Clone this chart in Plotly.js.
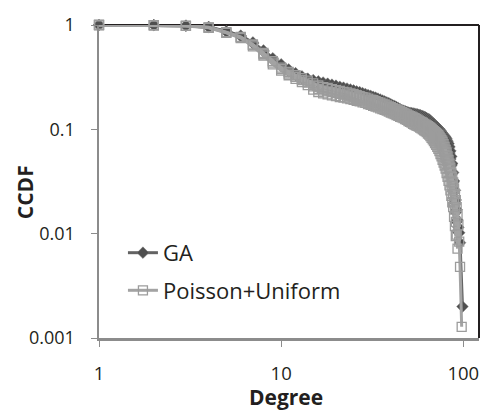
<!DOCTYPE html>
<html>
<head>
<meta charset="utf-8">
<script src="https://cdn.plot.ly/plotly-3.0.1.min.js"></script>
<style>
  html, body { margin: 0; padding: 0; background: #fff; }
  #chart { width: 487px; height: 412px; }
</style>
</head>
<body>
<div id="chart"></div>
<script>
// Node degree (x axis)
const degree = [
  1, 2, 3, 4, 5, 6, 7, 8, 9, 10,
  11, 12, 13, 14, 15, 16, 17, 18, 19, 20,
  21, 22, 23, 24, 25, 26, 27, 28, 29, 30,
  31, 32, 33, 34, 35, 36, 37, 38, 39, 40,
  41, 42, 43, 44, 45, 46, 47, 48, 49, 50,
  51, 52, 53, 54, 55, 56, 57, 58, 59, 60,
  61, 62, 63, 64, 65, 66, 67, 68, 69, 70,
  71, 72, 73, 74, 75, 76, 77, 78, 79, 80,
  81, 82, 83, 84, 85, 86, 87, 88, 89, 90,
  91, 92, 93, 94, 95, 96, 97, 98, 99
];

// CCDF of the GA-generated networks (two runs)
const gaRun1 = [
  1, 0.997, 0.986, 0.958, 0.87, 0.79, 0.68, 0.57, 0.48, 0.42,
  0.375, 0.345, 0.322, 0.306, 0.296, 0.288, 0.281, 0.274, 0.268, 0.262,
  0.256, 0.251, 0.246, 0.241, 0.236, 0.231, 0.227, 0.222, 0.218, 0.213,
  0.209, 0.205, 0.201, 0.197, 0.193, 0.189, 0.185, 0.181, 0.178, 0.174,
  0.170, 0.167, 0.163, 0.160, 0.156, 0.153, 0.151, 0.149, 0.147, 0.145,
  0.144, 0.143, 0.142, 0.141, 0.140, 0.139, 0.138, 0.137, 0.135, 0.134,
  0.132, 0.130, 0.128, 0.126, 0.124, 0.121, 0.118, 0.115, 0.112, 0.109,
  0.107, 0.105, 0.102, 0.100, 0.097, 0.094, 0.091, 0.088, 0.086, 0.084,
  0.081, 0.077, 0.073, 0.068, 0.062, 0.055, 0.047, 0.0385, 0.032, 0.026,
  0.021, 0.017, 0.0135, 0.0115, 0.0102, 0.0082, null, null, 0.002
];
const gaRun2 = [
  1, 0.996, 0.984, 0.952, 0.862, 0.78, 0.665, 0.555, 0.465, 0.405,
  0.36, 0.33, 0.308, 0.293, 0.282, 0.273, 0.265, 0.259, 0.253, 0.247,
  0.242, 0.237, 0.232, 0.228, 0.223, 0.219, 0.215, 0.211, 0.207, 0.203,
  0.199, 0.195, 0.191, 0.187, 0.183, 0.179, 0.175, 0.172, 0.168, 0.165,
  0.161, 0.158, 0.155, 0.152, 0.149, 0.146, 0.144, 0.142, 0.140, 0.138,
  0.137, 0.136, 0.135, 0.134, 0.133, 0.132, 0.131, 0.130, 0.129, 0.128,
  0.126, 0.124, 0.121, 0.119, 0.116, 0.114, 0.112, 0.110, 0.108, 0.105,
  0.103, 0.100, 0.097, 0.095, 0.092, 0.090, 0.088, 0.086, 0.083, 0.080,
  0.077, 0.072, 0.066, 0.059, 0.052, 0.045, 0.038, 0.031, 0.025, 0.020,
  0.016, 0.013, 0.0105
];

// CCDF of the Poisson+Uniform networks (three runs)
const puRun1 = [
  1, 0.996, 0.983, 0.95, 0.855, 0.77, 0.65, 0.54, 0.45, 0.39,
  0.355, 0.33, 0.31, 0.293, 0.276, 0.263, 0.254, 0.249, 0.243, 0.238,
  0.233, 0.229, 0.226, 0.221, 0.217, 0.213, 0.208, 0.204, 0.201, 0.197,
  0.193, 0.190, 0.186, 0.182, 0.180, 0.176, 0.173, 0.170, 0.166, 0.163,
  0.160, 0.157, 0.155, 0.152, 0.149, 0.146, 0.144, 0.141, 0.139, 0.136,
  0.134, 0.132, 0.130, 0.128, 0.126, 0.124, 0.121, 0.119, 0.117, 0.115,
  0.113, 0.111, 0.109, 0.107, 0.105, 0.103, 0.101, 0.098, 0.096, 0.094,
  0.092, 0.090, 0.088, 0.085, 0.082, 0.079, 0.076, 0.072, 0.068, 0.064,
  0.060, 0.055, 0.051, 0.047, 0.043, 0.0385, 0.035, 0.031, 0.027, 0.024,
  0.021, 0.018, 0.0153, 0.012, 0.0084, 0.0048, null, 0.00128
];
const puRun2 = [
  1, 0.995, 0.981, 0.945, 0.848, 0.76, 0.64, 0.525, 0.435, 0.378,
  0.343, 0.318, 0.297, 0.28, 0.258, 0.244, 0.236, 0.231, 0.227, 0.223,
  0.219, 0.215, 0.211, 0.207, 0.204, 0.200, 0.196, 0.192, 0.189, 0.185,
  0.182, 0.179, 0.176, 0.172, 0.169, 0.166, 0.162, 0.159, 0.156, 0.154,
  0.151, 0.148, 0.145, 0.143, 0.140, 0.137, 0.135, 0.132, 0.131, 0.128,
  0.126, 0.124, 0.121, 0.119, 0.117, 0.115, 0.113, 0.111, 0.109, 0.108,
  0.106, 0.103, 0.101, 0.098, 0.096, 0.094, 0.092, 0.089, 0.087, 0.085,
  0.082, 0.080, 0.077, 0.074, 0.071, 0.068, 0.065, 0.061, 0.057, 0.053,
  0.050, 0.046, 0.042, 0.038, 0.035, 0.031, 0.028, 0.024, 0.020, 0.017,
  0.013, 0.0098, 0.0072
];
const puRun3 = [
  1, 0.995, 0.98, 0.94, 0.84, 0.75, 0.625, 0.51, 0.42, 0.366,
  0.33, 0.305, 0.283, 0.265, 0.240, 0.228, 0.221, 0.216, 0.212, 0.208,
  0.204, 0.201, 0.198, 0.195, 0.192, 0.188, 0.185, 0.181, 0.179, 0.175,
  0.172, 0.168, 0.165, 0.162, 0.159, 0.156, 0.154, 0.151, 0.148, 0.145,
  0.142, 0.140, 0.137, 0.135, 0.132, 0.130, 0.128, 0.125, 0.123, 0.120,
  0.118, 0.116, 0.113, 0.111, 0.109, 0.108, 0.106, 0.104, 0.102, 0.100,
  0.098, 0.096, 0.094, 0.091, 0.089, 0.086, 0.083, 0.080, 0.077, 0.074,
  0.071, 0.068, 0.065, 0.062, 0.058, 0.055, 0.051, 0.048, 0.045, 0.042,
  0.038, 0.035, 0.032, 0.029, 0.026, 0.023, 0.020, 0.018, 0.0145, 0.0118,
  0.0095
];

const xTicks = [1, 10, 100];
const xTickText = ['1', '10', '100'];
const yTicks = [0.001, 0.01, 0.1, 1];
const yTickText = ['0.001', '0.01', '0.1', '1'];

const GA_LINE = '#636363';
const GA_MARK = '#4f4f4f';
const PU_LINE = '#a3a3a3';
const PU_MARK = '#9c9c9c';
const FONT = '"Open Sans", "Noto Sans", sans-serif';
const TEXT = '#231f20';

function gaTrace(values, show) {
  return {
    x: degree.slice(0, values.length), y: values,
    type: 'scatter', mode: 'lines+markers', name: 'GA',
    legendgroup: 'ga', showlegend: show, connectgaps: true, cliponaxis: false,
    line: { color: GA_LINE, width: 3 },
    marker: { symbol: 'diamond', size: 9, color: GA_MARK,
              line: { color: '#7a7a7a', width: 0.5 } },
    hoverinfo: 'x+y'
  };
}
function puTrace(values, show) {
  return {
    x: degree.slice(0, values.length), y: values,
    type: 'scatter', mode: 'lines+markers', name: 'Poisson+Uniform',
    legendgroup: 'pu', showlegend: show, connectgaps: true, cliponaxis: false,
    line: { color: PU_LINE, width: 3 },
    marker: { symbol: 'square-open', size: 9, color: PU_MARK,
              line: { color: PU_MARK, width: 1.3 } },
    hoverinfo: 'x+y'
  };
}

const data = [
  gaTrace(gaRun2, false),
  gaTrace(gaRun1, true),
  puTrace(puRun3, false),
  puTrace(puRun2, false),
  puTrace(puRun1, true)
];

const layout = {
  width: 487, height: 412,
  margin: { l: 99, r: 8, t: 25, b: 74, pad: 0 },
  paper_bgcolor: '#ffffff', plot_bgcolor: '#ffffff',
  font: { family: FONT, color: TEXT, size: 18 },
  showlegend: true,
  legend: {
    x: 0.063, y: 0.339, xanchor: 'left', yanchor: 'top',
    bgcolor: 'rgba(0,0,0,0)', borderwidth: 0,
    font: { family: FONT, size: 22, color: TEXT },
    traceorder: 'grouped', tracegroupgap: 6, itemwidth: 30
  },
  xaxis: {
    type: 'log', range: [0, Math.log10(122)],
    tickvals: xTicks, ticktext: xTickText,
    ticks: 'outside', ticklen: 6, tickwidth: 1, tickcolor: '#8c8c8c',
    showline: true, linecolor: '#8c8c8c', linewidth: 2.5,
    showgrid: false, zeroline: false, ticklabelstandoff: 11,
    tickfont: { family: FONT, size: 18.5, color: TEXT }
  },
  yaxis: {
    type: 'log', range: [-3, 0],
    tickvals: yTicks, ticktext: yTickText,
    ticks: 'outside', ticklen: 6, tickwidth: 1, tickcolor: '#8c8c8c',
    showline: true, linecolor: '#8c8c8c', linewidth: 2.5,
    showgrid: false, zeroline: false, ticklabelstandoff: 12,
    tickfont: { family: FONT, size: 18, color: TEXT }
  },
  shapes: [
    { type: 'line', xref: 'paper', yref: 'paper', x0: 0, x1: 1, y0: 1, y1: 1,
      line: { color: TEXT, width: 2 }, layer: 'below' },
    { type: 'line', xref: 'paper', yref: 'paper', x0: 1, x1: 1, y0: 0, y1: 1,
      line: { color: TEXT, width: 2 }, layer: 'below' }
  ],
  annotations: [
    { text: '<b>Degree</b>', xref: 'paper', yref: 'paper', x: 0.492, y: 0,
      yshift: -59, xanchor: 'center', yanchor: 'middle', showarrow: false,
      font: { family: FONT, size: 21, color: TEXT } },
    { text: '<b>CCDF</b>', xref: 'paper', yref: 'paper', x: 0, y: 0.466,
      xshift: -74, xanchor: 'center', yanchor: 'middle', showarrow: false,
      textangle: -90, font: { family: FONT, size: 21, color: TEXT } }
  ]
};

Plotly.newPlot('chart', data, layout, { displayModeBar: false, staticPlot: true });
</script>
</body>
</html>
